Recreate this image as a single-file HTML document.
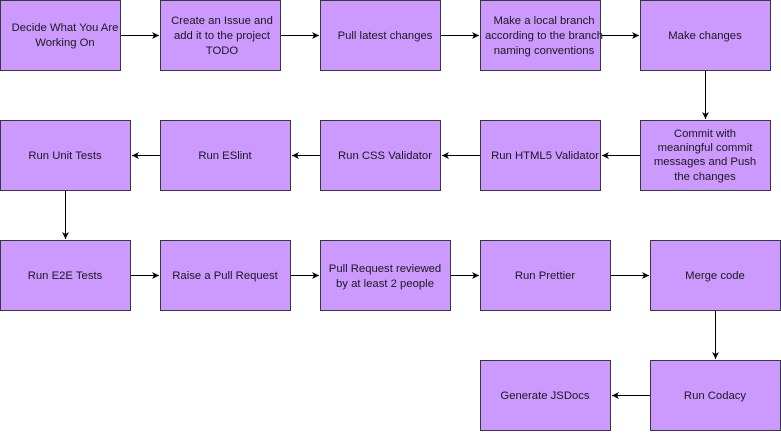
<!DOCTYPE html>
<html><head><style>body{margin:0;background:#fff}</style></head><body>
<svg width="781" height="432" xmlns="http://www.w3.org/2000/svg" font-family="Liberation Sans, sans-serif" font-size="11.3" fill="#000">
<defs><marker id="a" markerWidth="8" markerHeight="8" refX="7" refY="4" orient="auto" markerUnits="userSpaceOnUse"><path d="M0,0.5 L7,4 L0,7.5 L2,4 z" fill="#000"/></marker></defs>
<g fill="#CC99FF" stroke="#36393d" stroke-width="1">
<rect x="0.5" y="0.5" width="120" height="70"/><rect x="160.5" y="0.5" width="120" height="70"/><rect x="320.5" y="0.5" width="120" height="70"/><rect x="480.5" y="0.5" width="120" height="70"/><rect x="640.5" y="0.5" width="130" height="70"/>
<rect x="0.5" y="120.5" width="130" height="70"/><rect x="160.5" y="120.5" width="130" height="70"/><rect x="320.5" y="120.5" width="120" height="70"/><rect x="480.5" y="120.5" width="120" height="70"/><rect x="640.5" y="120.5" width="130" height="70"/>
<rect x="0.5" y="240.5" width="130" height="70"/><rect x="160.5" y="240.5" width="130" height="70"/><rect x="320.5" y="240.5" width="130" height="70"/><rect x="480.5" y="240.5" width="130" height="70"/><rect x="650.5" y="240.5" width="130" height="70"/>
<rect x="480.5" y="360.5" width="130" height="70"/><rect x="650.5" y="360.5" width="130" height="70"/>
</g>
<g stroke="#000" stroke-width="1" marker-end="url(#a)">
<line x1="121" y1="35.5" x2="159" y2="35.5"/><line x1="281" y1="35.5" x2="319" y2="35.5"/><line x1="441" y1="35.5" x2="479" y2="35.5"/><line x1="601" y1="35.5" x2="639" y2="35.5"/>
<line x1="705.5" y1="71" x2="705.5" y2="119"/>
<line x1="640" y1="155.5" x2="602" y2="155.5"/><line x1="480" y1="155.5" x2="442" y2="155.5"/><line x1="320" y1="155.5" x2="292" y2="155.5"/><line x1="160" y1="155.5" x2="132" y2="155.5"/>
<line x1="65.5" y1="191" x2="65.5" y2="239"/>
<line x1="131" y1="275.5" x2="159" y2="275.5"/><line x1="291" y1="275.5" x2="319" y2="275.5"/><line x1="451" y1="275.5" x2="479" y2="275.5"/><line x1="611" y1="275.5" x2="649" y2="275.5"/>
<line x1="715.5" y1="311" x2="715.5" y2="359"/>
<line x1="650" y1="395.5" x2="612" y2="395.5"/>
</g>
<g text-anchor="middle" fill="#1a1a1a">
<text x="65" y="31">Decide What You Are</text><text x="65" y="46">Working On</text>
<text x="222" y="24">Create an Issue and</text><text x="222" y="39">add it to the project</text><text x="222" y="54">TODO</text>
<text x="385" y="39">Pull latest changes</text>
<text x="544" y="24">Make a local branch</text><text x="544" y="39">according to the branch</text><text x="544" y="54">naming conventions</text>
<text x="705" y="39">Make changes</text>
<text x="705" y="137">Commit with</text><text x="705" y="151">meaningful commit</text><text x="705" y="165">messages and Push</text><text x="705" y="180">the changes</text>
<text x="545" y="159">Run HTML5 Validator</text>
<text x="385" y="159">Run CSS Validator</text>
<text x="225" y="159">Run ESlint</text>
<text x="65" y="159">Run Unit Tests</text>
<text x="65" y="279">Run E2E Tests</text>
<text x="225" y="279">Raise a Pull Request</text>
<text x="385" y="272">Pull Request reviewed</text><text x="385" y="287">by at least 2 people</text>
<text x="545" y="279">Run Prettier</text>
<text x="715" y="279">Merge code</text>
<text x="715" y="399">Run Codacy</text>
<text x="545" y="399">Generate JSDocs</text>
</g>
</svg>
</body></html>
